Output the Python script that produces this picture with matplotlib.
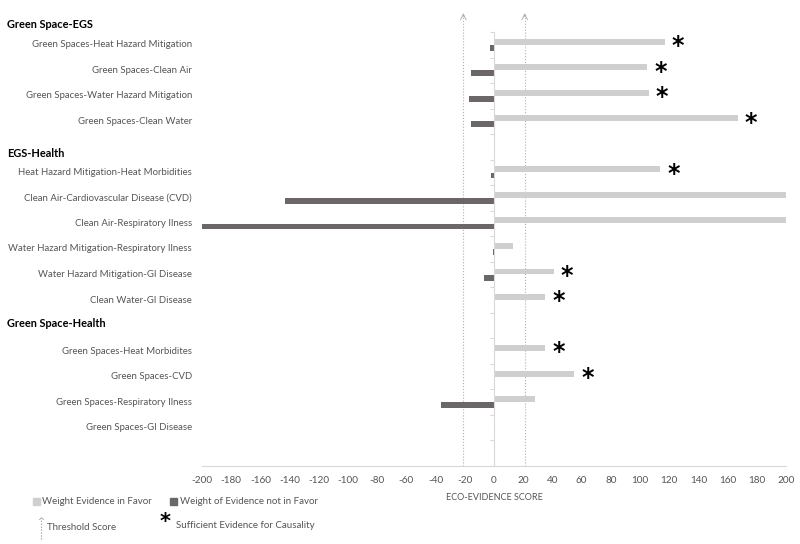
import matplotlib
matplotlib.use("Agg")
import matplotlib.pyplot as plt
import matplotlib.transforms as mtransforms
from matplotlib.patches import Rectangle
import numpy as np

plt.rcParams['font.family'] = ['Lato', 'DejaVu Sans']
plt.rcParams['axes.unicode_minus'] = False

# one slot per row, blank rows hold the group headers
categories = [
    "Green Spaces-Heat Hazard Mitigation",
    "Green Spaces-Clean Air",
    "Green Spaces-Water Hazard Mitigation",
    "Green Spaces-Clean Water",
    "",
    "Heat Hazard Mitigation-Heat Morbidities",
    "Clean Air-Cardiovascular Disease (CVD)",
    "Clean Air-Respiratory Ilness",
    "Water Hazard Mitigation-Respiratory Ilness",
    "Water Hazard Mitigation-GI Disease",
    "Clean Water-GI Disease",
    "",
    "Green Spaces-Heat Morbidites",
    "Green Spaces-CVD",
    "Green Spaces-Respiratory Ilness",
    "Green Spaces-GI Disease",
    "",
]
in_favor = [117, 105, 106, 167, 0, 114, 200, 200, 13, 41, 35, 0, 35, 55, 28, 0, 0]
not_in_favor = [-3, -16, -17, -16, 0, -2, -143, -200, -1, -7, 0, 0, 0, 0, -36, 0, 0]
sufficient = [1, 1, 1, 1, 0, 1, 0, 0, 0, 1, 1, 0, 1, 1, 0, 0, 0]

headers = ["Green Space-EGS", "EGS-Health", "Green Space-Health"]
header_rows = [-0.8, 4.25, 10.9]

thresholds = [-21, 21]
xticks = list(range(-200, 201, 20))

light = "#cfcfcf"
dark = "#6b6767"
txt = "#555555"
axis_col = "#d9d9d9"

fig = plt.figure(figsize=(8, 5.44), dpi=100)
ax = fig.add_axes([0.2525, 0.1434, 0.73, 0.7978])

y = np.arange(len(categories))
h = 0.23
ax.barh(y - 0.12, in_favor, height=h, color=light, zorder=2)
ax.barh(y + 0.12, not_in_favor, height=h, color=dark, zorder=2)

ax.set_xlim(-200, 200)
ax.set_ylim(len(categories) - 0.5, -0.5)

# category axis crosses at zero
ax.spines['left'].set_position(('data', 0))
ax.spines['left'].set_color(axis_col)
ax.spines['bottom'].set_color(axis_col)
ax.spines['right'].set_visible(False)
ax.spines['top'].set_visible(False)
ax.set_yticks(np.arange(-0.5, len(categories), 1.0))
ax.set_yticklabels([])
ax.tick_params(axis='y', length=3, color=axis_col, direction='out')

ax.set_xticks(xticks)
ax.tick_params(axis='x', length=0, labelsize=7.2, labelcolor=txt, pad=7)
ax.set_xlabel("ECO-EVIDENCE SCORE", fontsize=6.5, color=txt, labelpad=6)

trans = mtransforms.blended_transform_factory(ax.transAxes, ax.transData)
ftrans = mtransforms.blended_transform_factory(fig.transFigure, ax.transData)
for i, lab in enumerate(categories):
    if lab:
        ax.text(-0.017, i, lab, transform=trans, ha='right', va='center',
                fontsize=6.9, color=txt)
for lab, r in zip(headers, header_rows):
    fig.text(0.009, r, lab, fontsize=7.9, fontweight='bold', color='black',
             ha='left', va='center', transform=ftrans)

# threshold lines with arrow heads above the plot
top = -1.35
for t in thresholds:
    ax.plot([t, t], [len(categories) - 0.5, top + 0.1], ls=':', lw=0.8,
            color="#b0b0b0", clip_on=False, zorder=1)
    ax.annotate("", xy=(t, top), xytext=(t, top + 0.35),
                arrowprops=dict(arrowstyle='->', lw=0.7, color="#b0b0b0"),
                annotation_clip=False)

for i, s in enumerate(sufficient):
    if s:
        ax.text(in_favor[i] + 9, i + 0.05, "*", ha='center', va='center',
                fontsize=17, fontweight='bold', color='black',
                family='DejaVu Sans')

# legend drawn by hand
fig.patches.append(Rectangle((33 / 800, 1 - 505 / 544), 7 / 800, 7 / 544,
                             color=light, transform=fig.transFigure))
fig.text(42 / 800, 1 - 501 / 544, "Weight Evidence in Favor", fontsize=7,
         color=txt, va='center')
fig.patches.append(Rectangle((170 / 800, 1 - 505 / 544), 7 / 800, 7 / 544,
                             color=dark, transform=fig.transFigure))
fig.text(180 / 800, 1 - 501 / 544, "Weight of Evidence not in Favor", fontsize=7,
         color=txt, va='center')

fig.add_artist(plt.Line2D([41 / 800, 41 / 800], [1 - 539 / 544, 1 - 520 / 544],
                          ls=':', lw=0.8, color="#909090", transform=fig.transFigure))
fig.text(41 / 800, 1 - 521 / 544, "^", fontsize=6, color="#909090",
         ha='center', va='center', family='DejaVu Sans')
fig.text(47 / 800, 1 - 527 / 544, "Threshold Score", fontsize=7, color=txt,
         va='center')
fig.text(165 / 800, 1 - 522 / 544, "*", fontsize=15, fontweight='bold',
         color='black', ha='center', va='center', family='DejaVu Sans')
fig.text(176 / 800, 1 - 526 / 544, "Sufficient Evidence for Causality",
         fontsize=7, color=txt, va='center')

fig.savefig("out.png", dpi=100)
